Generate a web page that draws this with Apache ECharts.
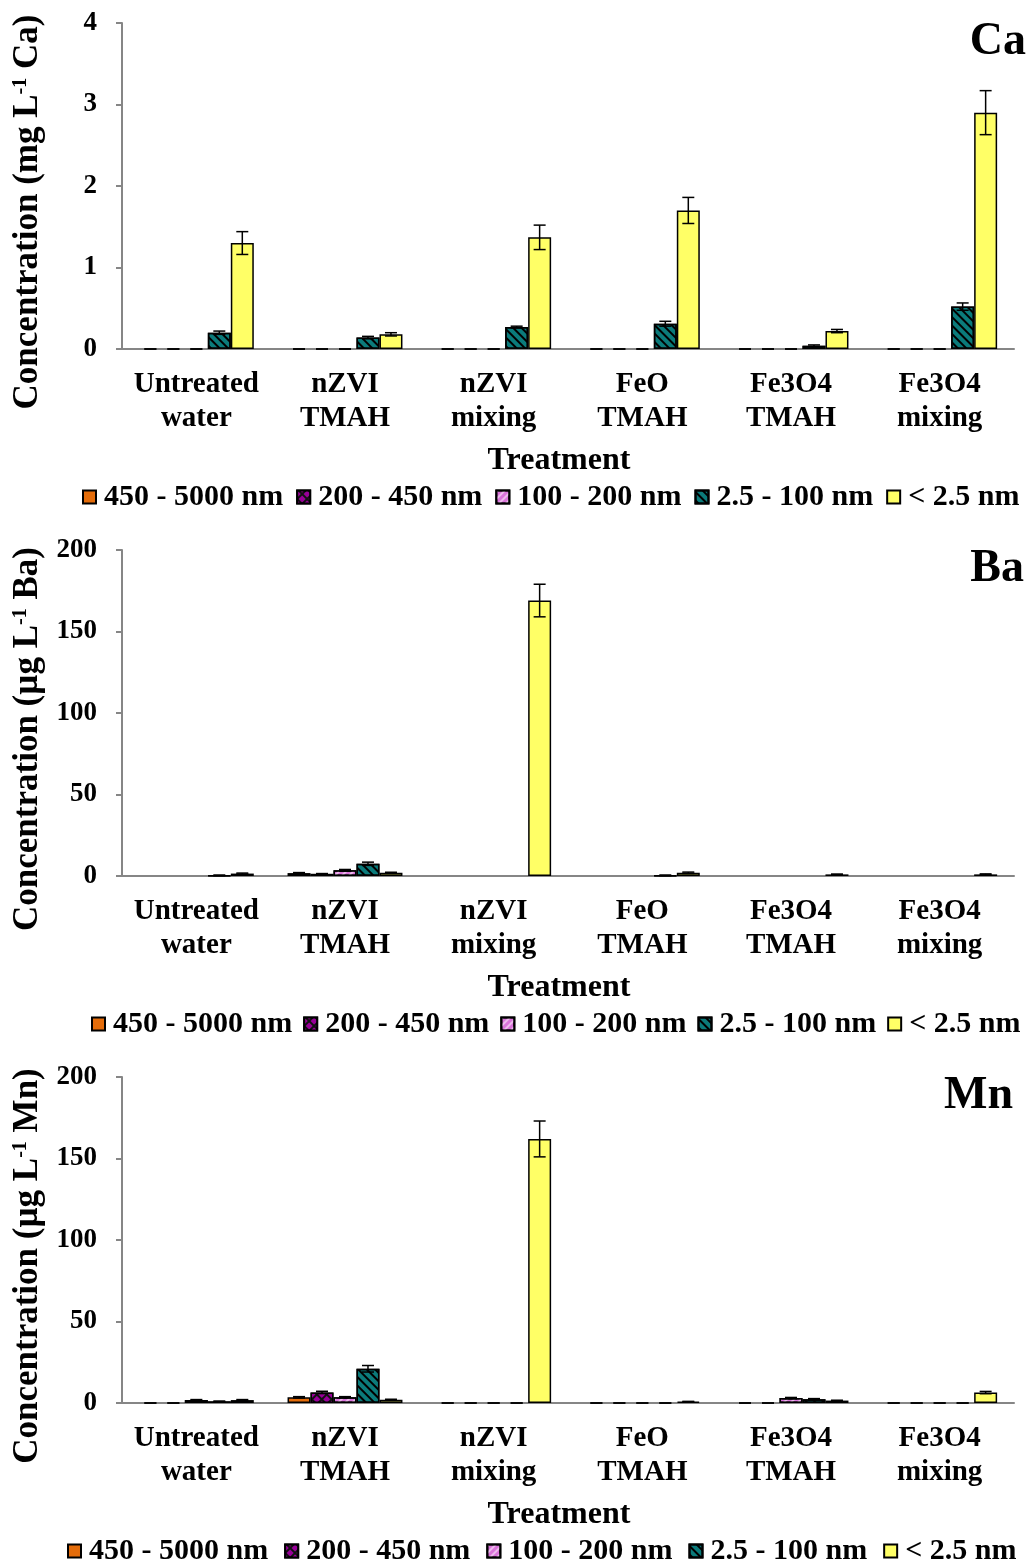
<!DOCTYPE html>
<html>
<head>
<meta charset="utf-8">
<script src="https://cdn.jsdelivr.net/npm/echarts@6/dist/echarts.min.js"></script>
<style>
  html, body { margin: 0; padding: 0; background: #fff; }
  #chart { width: 1029px; height: 1562px; }
</style>
</head>
<body>
<div id="chart"></div>
<script>
// Treatments on the x axis and particle size classes (series)
const treatments = ['Untreated\nwater', 'nZVI\nTMAH', 'nZVI\nmixing', 'FeO\nTMAH', 'Fe3O4\nTMAH', 'Fe3O4\nmixing'];
const sizeClasses = ['450 - 5000 nm', '200 - 450 nm', '100 - 200 nm', '2.5 - 100 nm', '< 2.5 nm'];

// Ca (mg/L): one row per size class, one entry per treatment
const caMean = [
  [0, 0, 0, 0, 0, 0],
  [0, 0, 0, 0, 0, 0],
  [0, 0, 0, 0, 0, 0],
  [0.20, 0.14, 0.27, 0.31, 0.04, 0.52],
  [1.30, 0.18, 1.37, 1.70, 0.22, 2.90]
];
const caErr = [
  [0, 0, 0, 0, 0, 0],
  [0, 0, 0, 0, 0, 0],
  [0, 0, 0, 0, 0, 0],
  [0.02, 0.015, 0.01, 0.03, 0.01, 0.045],
  [0.14, 0.02, 0.15, 0.16, 0.02, 0.27]
];

// Ba (µg/L)
const baMean = [
  [null, 1.8, null, null, null, null],
  [null, 1.3, null, null, null, null],
  [null, 3.5, null, null, null, null],
  [0.4, 7.5, null, 0.4, null, null],
  [1.5, 2.0, 169, 2.0, 1.0, 1.0]
];
const baErr = [
  [null, 0.3, null, null, null, null],
  [null, 0.2, null, null, null, null],
  [null, 0.5, null, null, null, null],
  [0.2, 1.0, null, 0.2, null, null],
  [0.3, 0.3, 10, 0.4, 0.2, 0.3]
];

// Mn (µg/L)
const mnMean = [
  [0, 3.5, 0, 0, 0, 0],
  [0, 6.5, 0, 0, 0, 0],
  [1.8, 3.5, 0, 0, 3.0, 0],
  [1.0, 21, 0, 0, 2.3, 0],
  [1.8, 2.0, 162, 0.8, 1.5, 6.4]
];
const mnErr = [
  [0, 0.4, 0, 0, 0, 0],
  [0, 0.7, 0, 0, 0, 0],
  [0.3, 0.4, 0, 0, 0.4, 0],
  [0.2, 2.0, 0, 0, 0.4, 0],
  [0.3, 0.3, 11, 0.2, 0.2, 0.7]
];

// Y axis scales per element
const yMax = [4, 200, 200];
const yStep = [1, 50, 50];

const FONT = '"Liberation Serif", "Times New Roman", serif';
const GAP_RATIO = 0.227;

const panels = [
  { mean: caMean, err: caErr, unit: 'mg', el: 'Ca' },
  { mean: baMean, err: baErr, unit: 'µg', el: 'Ba' },
  { mean: mnMean, err: mnErr, unit: 'µg', el: 'Mn' }
];
const panelTop = [23, 550, 1077];

const styles = [
  { color: '#E46C0A' },
  { color: '#111111', decal: { symbol: 'rect', symbolSize: 1, dashArrayX: [5, 1.6], dashArrayY: [5, 1.6], rotation: Math.PI / 4, color: '#990099' } },
  { color: '#DA74DA', decal: { symbol: 'rect', symbolSize: 1, dashArrayX: [1, 0], dashArrayY: [2, 3], rotation: -Math.PI / 4, color: 'rgba(255,255,255,0.5)' } },
  { color: '#0B7B7B', decal: { symbol: 'rect', symbolSize: 1, dashArrayX: [1, 0], dashArrayY: [2, 3.5], rotation: Math.PI / 4, color: '#000000' } },
  { color: '#FFFF66' }
];

function renderErr(params, api) {
  const cat = api.value(0), k = api.value(1), v = api.value(2), e = api.value(3);
  const band = api.size([1, 0])[0];
  const barW = band * (1 - GAP_RATIO) / 5;
  const base = api.coord([cat, v]);
  const x = base[0] - 2.5 * barW + (k + 0.5) * barW;
  const yTop = api.coord([cat, v + e])[1];
  const yBot = api.coord([cat, v - e])[1];
  const st = { stroke: '#000', lineWidth: 1.5 };
  const h = 6;
  return {
    type: 'group',
    children: [
      { type: 'line', shape: { x1: x, y1: yTop, x2: x, y2: yBot }, style: st },
      { type: 'line', shape: { x1: x - h, y1: yTop, x2: x + h, y2: yTop }, style: st },
      { type: 'line', shape: { x1: x - h, y1: yBot, x2: x + h, y2: yBot }, style: st }
    ]
  };
}

const grid = [], xAxis = [], yAxis = [], series = [], legend = [], graphic = [];
const legendLeft = [82, 91, 67];
const legendGap = [13, 11, 16];

panels.forEach((p, g) => {
  const top = panelTop[g];
  grid.push({ left: 122, top: top, width: 892, height: 326 });
  xAxis.push({
    type: 'category', gridIndex: g, data: treatments,
    axisLine: { lineStyle: { color: '#868686', width: 2 } },
    axisTick: { show: false },
    axisLabel: { interval: 0, margin: 19, color: '#000', fontFamily: FONT, fontWeight: 'bold', fontSize: 29, lineHeight: 34 },
    name: 'Treatment', nameLocation: 'middle', nameGap: 96,
    nameTextStyle: { color: '#000', fontFamily: FONT, fontWeight: 'bold', fontSize: 32, padding: [0, 18, 0, 0] }
  });
  yAxis.push({
    type: 'value', gridIndex: g, min: 0, max: yMax[g], interval: yStep[g],
    axisLine: { show: true, lineStyle: { color: '#868686', width: 2 } },
    axisTick: { show: true, length: 6, lineStyle: { color: '#868686', width: 2 } },
    splitLine: { show: false },
    axisLabel: { margin: 25, color: '#000', fontFamily: FONT, fontWeight: 'bold', fontSize: 27 }
  });
  const errData = [];
  sizeClasses.forEach((name, k) => {
    series.push({
      type: 'bar', name: name, xAxisIndex: g, yAxisIndex: g,
      barGap: '0%', barCategoryGap: (GAP_RATIO * 100) + '%',
      itemStyle: Object.assign({ borderColor: '#000', borderWidth: 1.5 }, styles[k]),
      data: p.mean[k].map(v => (v ? v : '-')),
      emphasis: { disabled: true }
    });
    p.err[k].forEach((e, i) => {
      if (e !== null && p.mean[k][i] !== null) errData.push([i, k, p.mean[k][i], e]);
    });
  });
  series.push({
    type: 'custom', name: 'err' + p.el, xAxisIndex: g, yAxisIndex: g, z: 10,
    renderItem: renderErr, encode: { x: 0, y: 2 }, data: errData, silent: true
  });
  legend.push({
    data: sizeClasses, top: top + 459, left: legendLeft[g], itemGap: legendGap[g], padding: 0,
    itemWidth: 13, itemHeight: 13, icon: 'rect', selectedMode: false,
    textStyle: { color: '#000', fontFamily: FONT, fontWeight: 'bold', fontSize: 30, padding: [0, 0, 0, 3] }
  });
  graphic.push({
    type: 'text', x: 28, y: top + 189, rotation: Math.PI / 2,
    style: {
      text: 'Concentration (' + p.unit + ' L{sup|-1} ' + p.el + ')',
      font: 'bold 35px ' + FONT, fill: '#000', align: 'center', verticalAlign: 'middle',
      rich: { sup: { fontFamily: FONT, fontWeight: 'bold', fontSize: 20, verticalAlign: 'top', fill: '#000' } }
    }
  });
  graphic.push({
    type: 'text', x: [1026, 1024, 1013][g], y: top + 19,
    style: { text: p.el, font: 'bold 46px ' + FONT, fill: '#000', align: 'right', verticalAlign: 'middle' }
  });
});

const chart = echarts.init(document.getElementById('chart'), null, { renderer: 'canvas' });
chart.setOption({
  animation: false,
  backgroundColor: '#fff',
  grid, xAxis, yAxis, series, legend, graphic
});
</script>
</body>
</html>
